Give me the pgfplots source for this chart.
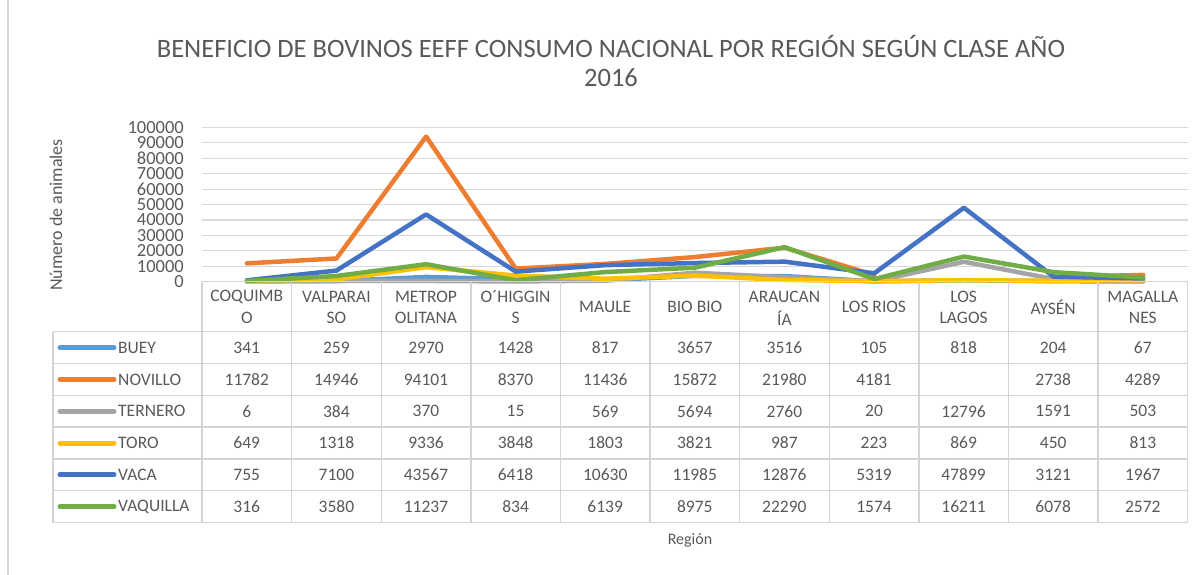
\documentclass[border=0pt]{standalone}
\usepackage{pgfplots}
\pgfplotsset{compat=1.18}
\usepackage{pgfplotstable}
\usepackage{fontspec}
\setmainfont{Carlito}
\definecolor{txt}{HTML}{595959}
\definecolor{gridc}{HTML}{D9D9D9}
\definecolor{tabc}{HTML}{D4D4D4}
\definecolor{cBuey}{HTML}{5B9BD5}
\definecolor{cNovillo}{HTML}{ED7D31}
\definecolor{cTernero}{HTML}{A5A5A5}
\definecolor{cToro}{HTML}{FFC000}
\definecolor{cVaca}{HTML}{4472C4}
\definecolor{cVaquilla}{HTML}{70AD47}
\pgfplotstableread{
x buey novillo ternero toro vaca vaquilla
0 341 11782 6 649 755 316
1 259 14946 384 1318 7100 3580
2 2970 94101 370 9336 43567 11237
3 1428 8370 15 3848 6418 834
4 817 11436 569 1803 10630 6139
5 3657 15872 5694 3821 11985 8975
6 3516 21980 2760 987 12876 22290
7 105 4181 20 223 5319 1574
8 818 nan 12796 869 47899 16211
9 204 2738 1591 450 3121 6078
10 67 4289 503 813 1967 2572
}\data
\begin{document}
\begin{tikzpicture}[x=1pt,y=1pt]
\path (0,0) rectangle (1203,-575);
\draw[gridc, line width=1.2pt] (8,0) -- (8,-575);
% title
\node[text=txt, font=\fontsize{26.5}{30}\selectfont] at (611,-47) {BENEFICIO DE BOVINOS EEFF CONSUMO NACIONAL POR REGIÓN SEGÚN CLASE AÑO};
\node[text=txt, font=\fontsize{26.5}{30}\selectfont] at (611,-78) {2016};
% y label
\node[text=txt, font=\fontsize{18}{18}\selectfont, rotate=90] at (56,-215) {Número de animales};
% x label
\node[text=txt, font=\fontsize{16}{16}\selectfont] at (690,-540) {Región};
\begin{axis}[
  at={(202pt,-281.5pt)}, anchor=south west, scale only axis,
  width=986pt, height=154pt,
  xmin=-0.5, xmax=10.5, ymin=0, ymax=100000,
  ytick={0,10000,...,100000}, xtick=\empty,
  axis line style={draw=none}, major tick length=0pt,
  ymajorgrids, grid style={gridc, line width=1.2pt},
  scaled y ticks=false,
  /pgf/number format/assume math mode=true,
  yticklabel style={font=\fontsize{18.5}{18.5}\selectfont, text=txt, inner sep=0pt, xshift=-18pt,
     /pgf/number format/.cd, fixed, 1000 sep={}},
  clip=false, unbounded coords=jump,
  every axis plot/.append style={line width=4.5pt, line join=round, line cap=round},
]
\addplot[cBuey] table[x=x,y=buey]{\data};
\addplot[cNovillo] table[x=x,y=novillo]{\data};
\addplot[cTernero] table[x=x,y=ternero]{\data};
\addplot[cToro] table[x=x,y=toro]{\data};
\addplot[cVaca] table[x=x,y=vaca]{\data};
\addplot[cVaquilla] table[x=x,y=vaquilla]{\data};
\end{axis}
% table grid
\def\cw{89.6}
\foreach \yy in {331.7,363.5,395.3,427.1,458.9,490.7,522.5}
  \draw[tabc, line width=1.4pt] (53,-\yy) -- (1188,-\yy);
\draw[tabc, line width=1.4pt] (202,-281.5) -- (1188,-281.5);
\draw[tabc, line width=1.4pt] (53,-331.7) -- (53,-522.5);
\foreach \k in {0,...,11}
  \draw[tabc, line width=1.4pt] ({202+\k*\cw},-281.5) -- ({202+\k*\cw},-522.5);
% header
\foreach [count=\i from 0] \a/\b in {COQUIMB/O,VALPARAI/SO,METROP/OLITANA,O´HIGGIN/S,/MAULE,/BIO BIO,ARAUCAN/ÍA,/LOS RIOS,LOS/LAGOS,/AYSÉN,MAGALLA/NES}{
  \ifx\a\empty
    \node[text=txt, font=\fontsize{17.5}{17.5}\selectfont] at ({202+(\i+0.5)*\cw},-307) {\b};
  \else
    \node[text=txt, font=\fontsize{17.5}{17.5}\selectfont] at ({202+(\i+0.5)*\cw},-297) {\a};
    \node[text=txt, font=\fontsize{17.5}{17.5}\selectfont] at ({202+(\i+0.5)*\cw},-318) {\b};
  \fi
}
% rows
\foreach [count=\r from 0] \name/\col/\vals in {
  BUEY/cBuey/{341,259,2970,1428,817,3657,3516,105,818,204,67},
  NOVILLO/cNovillo/{11782,14946,94101,8370,11436,15872,21980,4181,{},2738,4289},
  TERNERO/cTernero/{6,384,370,15,569,5694,2760,20,12796,1591,503},
  TORO/cToro/{649,1318,9336,3848,1803,3821,987,223,869,450,813},
  VACA/cVaca/{755,7100,43567,6418,10630,11985,12876,5319,47899,3121,1967},
  VAQUILLA/cVaquilla/{316,3580,11237,834,6139,8975,22290,1574,16211,6078,2572}}{
  \pgfmathsetmacro{\yc}{-(347.6+\r*31.8)}
  \draw[\col, line width=5pt, line cap=round] (60,\yc) -- (114,\yc);
  \node[text=txt, font=\fontsize{17.5}{17.5}\selectfont, anchor=west, inner sep=0pt] at (118,\yc) {\name};
  \foreach [count=\c from 0] \v in \vals
    \node[text=txt, font=\fontsize{17.5}{17.5}\selectfont] at ({202+(\c+0.5)*\cw},\yc) {\v};
}
\pgfresetboundingbox
\path (0,0) rectangle (1203,-575);
\end{tikzpicture}
\end{document}
